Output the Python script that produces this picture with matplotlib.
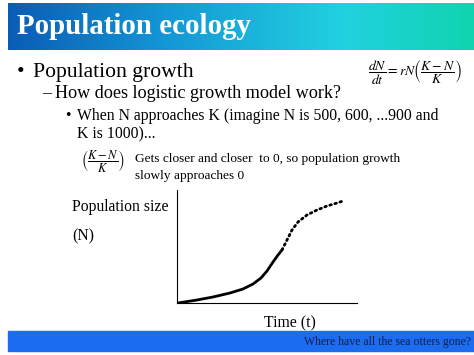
import numpy as np
import matplotlib
matplotlib.use("Agg")
import matplotlib.pyplot as plt
from matplotlib.patches import Rectangle

plt.rcParams["font.family"] = ["Liberation Serif", "DejaVu Serif"]
plt.rcParams["mathtext.fontset"] = "stix"

# --------------------------------------------------
# DATA (logistic curve sketch)
# --------------------------------------------------
time_solid = [1, 20, 36, 53, 66, 76, 84, 90, 96, 101, 105]
size_solid = [0, 3, 6, 10, 14, 19, 25, 32, 41, 48, 53]
time_dotted = [105, 110, 115, 121, 130, 140, 150, 160, 166]
size_dotted = [53, 63, 73, 81, 88, 93, 97, 100, 102]

title = "Population ecology"
bullet1 = "Population growth"
sub1 = "How does logistic growth model work?"
sub2_line1 = "When N approaches K (imagine N is 500, 600, ...900 and"
sub2_line2 = "K is 1000)..."
note_line1 = "Gets closer and closer  to 0, so population growth"
note_line2 = "slowly approaches 0"
footer = "Where have all the sea otters gone?"

W, H = 474, 355
fig = plt.figure(figsize=(W / 100, H / 100), dpi=100)


def fx(px):
    return px / W


def fy(py):
    return 1 - py / H


# --------------------------------------------------
# TITLE BAR (gradient)
# --------------------------------------------------
bar = fig.add_axes([fx(8), fy(50), 1 - fx(8), fy(3) - fy(50)])
grad_cols = np.array([
    [0.04, 0.36, 0.71],
    [0.08, 0.60, 0.84],
    [0.13, 0.82, 0.88],
    [0.06, 0.83, 0.69],
])
stops = [0.0, 0.35, 0.72, 1.0]
xs = np.linspace(0, 1, 300)
img = np.stack([np.interp(xs, stops, grad_cols[:, c]) for c in range(3)], axis=-1)
bar.imshow(img[None, :, :], aspect="auto", extent=[0, 1, 0, 1])
bar.axis("off")
fig.text(fx(17), fy(27), title, color="white", fontsize=20.8, fontweight="bold",
         va="center", ha="left")

# --------------------------------------------------
# BULLET TEXT
# --------------------------------------------------
fig.text(fx(17), fy(73), "\u2022", fontsize=15.6, va="center")
fig.text(fx(33), fy(73), bullet1, fontsize=15.6, va="center")
fig.text(fx(42), fy(94), "\u2013", fontsize=13.1, va="center")
fig.text(fx(55), fy(94), sub1, fontsize=13.1, va="center")
fig.text(fx(65), fy(116), "\u2022", fontsize=11.3, va="center")
fig.text(fx(77), fy(116), sub2_line1, fontsize=11.3, va="center")
fig.text(fx(77), fy(134), sub2_line2, fontsize=11.3, va="center")

fig.text(fx(81), fy(161), r"$\left(\dfrac{K-N}{K}\right)$", fontsize=9, va="center")
fig.text(fx(135), fy(159), note_line1, fontsize=9.6, va="center")
fig.text(fx(135), fy(176), note_line2, fontsize=9.6, va="center")

fig.text(fx(368), fy(73), r"$\dfrac{dN}{dt}=rN\left(\dfrac{K-N}{K}\right)$",
         fontsize=9.9, va="center")

# --------------------------------------------------
# LOGISTIC CURVE
# --------------------------------------------------
ax = fig.add_axes([fx(177), fy(303), fx(357) - fx(177), fy(190) - fy(303)])
ax.plot(time_solid, size_solid, color="black", lw=2, solid_capstyle="round",
        solid_joinstyle="round")
ax.plot(time_dotted, size_dotted, color="black", lw=2, linestyle=(0, (0.6, 1.3)),
        dash_capstyle="round")
ax.set_xlim(0, 180)
ax.set_ylim(0, 113)
ax.spines["top"].set_visible(False)
ax.spines["right"].set_visible(False)
ax.spines["left"].set_linewidth(0.8)
ax.spines["bottom"].set_linewidth(0.8)
ax.set_xticks([])
ax.set_yticks([])
ax.patch.set_alpha(0)

fig.text(fx(72), fy(207), "Population size", fontsize=11.3, va="center")
fig.text(fx(72), fy(236), "(N)", fontsize=11.3, va="center")
fig.text(fx(290), fy(323), "Time (t)", fontsize=11.3, va="center", ha="center")

# --------------------------------------------------
# FOOTER BAR
# --------------------------------------------------
fig.patches.append(Rectangle((fx(8), fy(351)), 1 - fx(8), fy(331) - fy(351),
                             transform=fig.transFigure, color="#1b6cf0", zorder=0))
fig.text(fx(471), fy(341.5), footer, fontsize=8.5, color="#0b1f4d",
         ha="right", va="center")

plt.savefig("out.png", dpi=100)
